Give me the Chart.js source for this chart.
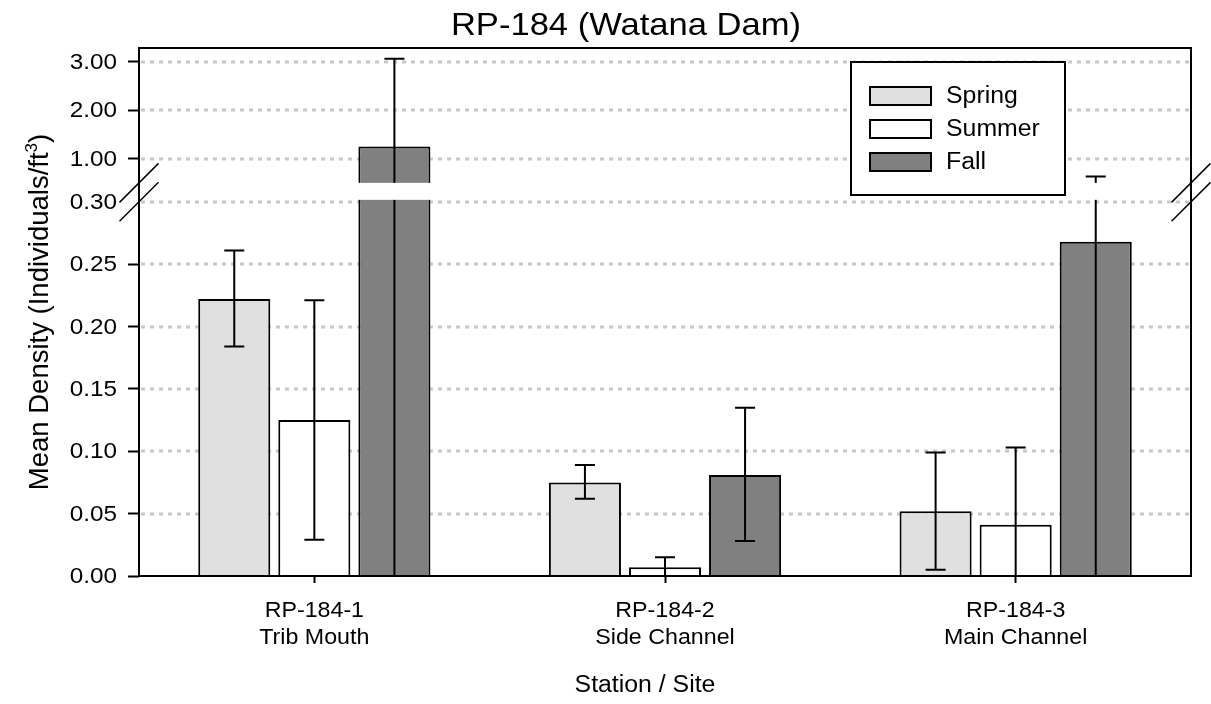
<!DOCTYPE html>
<html>
<head>
<meta charset="utf-8">
<title>RP-184 (Watana Dam)</title>
<script src="https://cdn.jsdelivr.net/npm/chart.js@4.4.0/dist/chart.umd.min.js"></script>
<style>
    html, body { margin: 0; padding: 0; background: #ffffff; }
    #wrap { width: 1211px; height: 704px; }
</style>
</head>
<body>
<div id="wrap"><canvas id="chart" width="1211" height="704"></canvas></div>
<script>
const stations = ["RP-184-1", "RP-184-2", "RP-184-3"];
const sites = ["Trib Mouth", "Side Channel", "Main Channel"];

const springMean = [0.222, 0.075, 0.052];
const springLow = [0.184, 0.062, 0.005];
const springHigh = [0.261, 0.089, 0.099];

const summerMean = [0.125, 0.007, 0.041];
const summerLow = [0.029, 0, 0];
const summerHigh = [0.221, 0.015, 0.103];

const fallMean = [1.25, 0.081, 0.268];
const fallLow = [0, 0.028, 0];
const fallHigh = [3.06, 0.135, 0.63];

const yTicks = [0, 0.05, 0.10, 0.15, 0.20, 0.25, 0.30, 1, 2, 3];

// broken axis: 0 - 0.30 linear, then a gap, then 0.5 - 3.28 compressed
const LOW_TOP = 0.30;
const HIGH_BASE = 0.5;
const HIGH_MAX = 3.28;
const GAP = 0.0152;
const HIGH_SCALE = 0.0389;

function toAxis(v) {
    if (v <= LOW_TOP) return v;
    return LOW_TOP + GAP + (v - HIGH_BASE) * HIGH_SCALE;
}

const FONT = '"Liberation Sans", Arial, Helvetica, sans-serif';
const SX = 1.08;

function drawText(ctx, str, x, y, size, align, baseline, sx) {
    ctx.save();
    ctx.font = size + "px " + FONT;
    ctx.fillStyle = "#000";
    ctx.textAlign = align;
    ctx.textBaseline = baseline;
    ctx.translate(x, y);
    ctx.scale(sx, 1);
    ctx.fillText(str, 0, 0);
    ctx.restore();
}

const lows = [springLow, summerLow, fallLow];
const highs = [springHigh, summerHigh, fallHigh];

const decor = {
    id: "decor",
    beforeDatasetsDraw(chart) {
        const ctx = chart.ctx;
        const area = chart.chartArea;
        const y = chart.scales.y;
        ctx.save();
        ctx.strokeStyle = "#c8c8c8";
        ctx.lineWidth = 3;
        ctx.setLineDash([4, 5]);
        yTicks.forEach(v => {
            if (v === 0) return;
            const py = Math.round(y.getPixelForValue(toAxis(v)));
            ctx.beginPath();
            ctx.moveTo(area.left + 2, py);
            ctx.lineTo(area.right, py);
            ctx.stroke();
        });
        ctx.restore();
    },
    afterDatasetsDraw(chart) {
        const ctx = chart.ctx;
        const area = chart.chartArea;
        const y = chart.scales.y;

        // error bars
        ctx.save();
        ctx.strokeStyle = "#000";
        ctx.lineWidth = 2;
        chart.data.datasets.forEach((ds, di) => {
            const meta = chart.getDatasetMeta(di);
            meta.data.forEach((bar, i) => {
                const x = bar.x;
                const hi = y.getPixelForValue(toAxis(highs[di][i]));
                const lo = y.getPixelForValue(toAxis(Math.max(lows[di][i], 0)));
                ctx.beginPath();
                ctx.moveTo(x, lo);
                ctx.lineTo(x, hi);
                ctx.moveTo(x - 10, hi);
                ctx.lineTo(x + 10, hi);
                if (lows[di][i] > 0) {
                    ctx.moveTo(x - 10, lo);
                    ctx.lineTo(x + 10, lo);
                }
                ctx.stroke();
            });
        });
        ctx.restore();

        // white gap for the axis break
        const gapTop = y.getPixelForValue(toAxis(HIGH_BASE));
        const gapBottom = y.getPixelForValue(LOW_TOP);
        ctx.save();
        ctx.fillStyle = "#ffffff";
        ctx.fillRect(area.left + 1, gapTop, area.right - area.left - 2, gapBottom - 2 - gapTop);
        ctx.restore();

        // frame
        ctx.save();
        ctx.strokeStyle = "#000";
        ctx.lineWidth = 2;
        ctx.strokeRect(area.left, area.top, area.right - area.left, area.bottom - area.top);
        ctx.restore();

        // legend
        ctx.save();
        ctx.fillStyle = "#fff";
        ctx.fillRect(851, 62, 214, 133);
        ctx.strokeStyle = "#000";
        ctx.lineWidth = 2;
        ctx.strokeRect(851, 62, 214, 133);
        chart.data.datasets.forEach((ds, di) => {
            const cy = 96 + di * 33;
            ctx.fillStyle = ds.backgroundColor;
            ctx.fillRect(870, cy - 9, 61, 18);
            ctx.strokeRect(870, cy - 9, 61, 18);
            drawText(ctx, ds.label, 946, cy + 1, 23, "left", "middle", SX);
        });
        ctx.restore();

        // break marks
        ctx.save();
        ctx.strokeStyle = "#000";
        ctx.lineWidth = 1.5;
        [area.left, area.right].forEach(x0 => {
            [gapTop, gapBottom].forEach(yc => {
                ctx.beginPath();
                ctx.moveTo(x0 - 19.5, yc + 19.5);
                ctx.lineTo(x0 + 19.5, yc - 19.5);
                ctx.stroke();
            });
        });
        ctx.restore();
    },
    afterDraw(chart) {
        const ctx = chart.ctx;
        const area = chart.chartArea;
        const x = chart.scales.x;
        const y = chart.scales.y;

        drawText(ctx, "RP-184 (Watana Dam)", 626, 35, 32, "center", "alphabetic", SX);

        yTicks.forEach(v => {
            const py = y.getPixelForValue(toAxis(v));
            drawText(ctx, v.toFixed(2), area.left - 22, py + 1, 22.5, "right", "middle", SX);
        });

        stations.forEach((s, i) => {
            const px = x.getPixelForTick(i);
            drawText(ctx, s, px, area.bottom + 41, 21.5, "center", "alphabetic", SX);
            drawText(ctx, sites[i], px, area.bottom + 68, 21.5, "center", "alphabetic", SX);
        });

        drawText(ctx, "Station / Site", 645, 692, 23, "center", "alphabetic", SX);

        // rotated y title with superscript
        ctx.save();
        ctx.translate(48, (area.top + area.bottom) / 2);
        ctx.rotate(-Math.PI / 2);
        ctx.fillStyle = "#000";
        ctx.textBaseline = "alphabetic";
        ctx.textAlign = "left";
        const main = "Mean Density (Individuals/ft";
        ctx.font = "27.5px " + FONT;
        const wMain = ctx.measureText(main).width;
        const wClose = ctx.measureText(")").width;
        ctx.font = "17px " + FONT;
        const wSup = ctx.measureText("3").width;
        const start = -(wMain + wSup + wClose) / 2;
        ctx.font = "27.5px " + FONT;
        ctx.fillText(main, start, 0);
        ctx.font = "17px " + FONT;
        ctx.fillText("3", start + wMain, -11);
        ctx.font = "27.5px " + FONT;
        ctx.fillText(")", start + wMain + wSup, 0);
        ctx.restore();
    }
};

new Chart(document.getElementById("chart"), {
    type: "bar",
    data: {
        labels: stations,
        datasets: [
            {
                label: "Spring",
                data: springMean.map(toAxis),
                backgroundColor: "#e0e0e0"
            },
            {
                label: "Summer",
                data: summerMean.map(toAxis),
                backgroundColor: "#ffffff"
            },
            {
                label: "Fall",
                data: fallMean.map(toAxis),
                backgroundColor: "#808080"
            }
        ]
    },
    options: {
        responsive: false,
        animation: false,
        devicePixelRatio: 1,
        layout: {
            padding: { top: 48, right: 20, left: 0, bottom: 0 }
        },
        datasets: {
            bar: {
                borderColor: "#000",
                borderWidth: 2,
                categoryPercentage: 0.685,
                barPercentage: 0.9
            }
        },
        scales: {
            x: {
                offset: true,
                afterFit: s => { s.height = 128; },
                border: { display: false },
                grid: {
                    offset: false,
                    drawOnChartArea: false,
                    drawTicks: true,
                    tickLength: 7,
                    tickWidth: 2,
                    tickColor: "#000"
                },
                ticks: { display: false }
            },
            y: {
                min: 0,
                max: toAxis(HIGH_MAX),
                afterFit: s => { s.width = 139; },
                afterBuildTicks: s => {
                    s.ticks = yTicks.map(v => ({ value: toAxis(v) }));
                },
                border: { display: false },
                grid: {
                    drawOnChartArea: false,
                    drawTicks: true,
                    tickLength: 11,
                    tickWidth: 2,
                    tickColor: c => yTicks[c.index] === LOW_TOP ? "rgba(0,0,0,0)" : "#000"
                },
                ticks: { display: false }
            }
        },
        plugins: {
            legend: { display: false },
            title: { display: false },
            tooltip: { enabled: false }
        }
    },
    plugins: [decor]
});
</script>
</body>
</html>
